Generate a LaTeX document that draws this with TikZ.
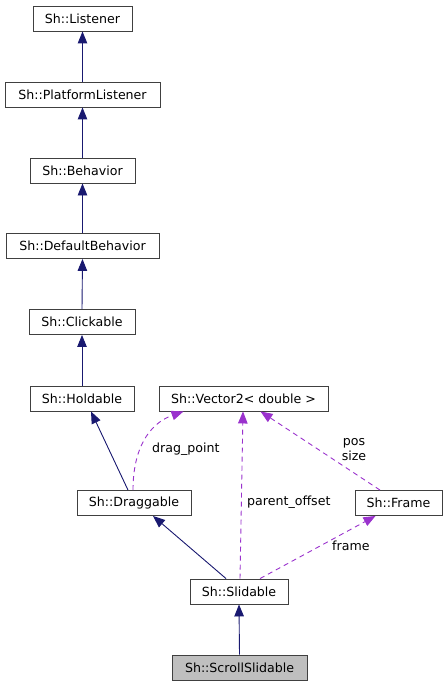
\documentclass[tikz,border=0pt]{standalone}
\usepackage{fontspec}
\setmainfont{DejaVu Sans}
\usetikzlibrary{arrows.meta}
\definecolor{inh}{HTML}{191970}
\definecolor{usg}{HTML}{9A32CD}
\definecolor{bord}{HTML}{404040}
\definecolor{cur}{HTML}{BFBFBF}
\begin{document}
\begin{tikzpicture}[x=1pt,y=-1pt,
  cls/.style={draw=bord,line width=0.9pt,fill=white,inner sep=0pt,minimum height=25pt,font=\fontsize{12.6}{15}\selectfont},
  lbl/.style={inner sep=0pt,font=\fontsize{12.6}{15}\selectfont,align=center},
  inherit/.style={draw=inh,line width=0.9pt,-{Triangle[length=12pt,width=9.5pt]}},
  uses/.style={draw=usg,line width=0.9pt,dash pattern=on 5pt off 4pt,-{Triangle[length=12pt,width=9.5pt]}}]
\useasboundingbox (0,0) rectangle (447,687);
\node[cls,minimum width=99pt] (li) at (82.5,18.5) {Sh::Listener};
\node[cls,minimum width=155pt] (pl) at (82.5,94.5) {Sh::PlatformListener};
\node[cls,minimum width=105pt] (be) at (82.5,170.5) {Sh::Behavior};
\node[cls,minimum width=153pt] (db) at (82.5,246) {Sh::DefaultBehavior};
\node[cls,minimum width=106pt] (cl) at (82,322) {Sh::Clickable};
\node[cls,minimum width=104pt] (ho) at (82,398.5) {Sh::Holdable};
\node[cls,minimum width=169pt] (v2) at (243.5,398.5) {Sh::Vector2< double >};
\node[cls,minimum width=114pt] (dr) at (134,503) {Sh::Draggable};
\node[cls,minimum width=87pt] (fr) at (398.5,503) {Sh::Frame};
\node[cls,minimum width=98pt] (sl) at (239,591.5) {Sh::Slidable};
\node[cls,minimum width=135pt,fill=cur] (ss) at (239.5,667.5) {Sh::ScrollSlidable};

\draw[inherit] (pl.north) -- (li.south);
\draw[inherit] (be.north) -- (pl.south);
\draw[inherit] (db.north) -- (be.south);
\draw[inherit] (cl.north) -- (db.south);
\draw[inherit] (ho.north) -- (cl.south);
\draw[inherit] ([xshift=-6pt]dr.north) -- ([xshift=9pt]ho.south);
\draw[inherit] ([xshift=-13pt]sl.north) -- ([xshift=19pt]dr.south);
\draw[inherit] (ss.north) -- (sl.south);

\draw[uses] ([xshift=-1pt]dr.north) .. controls (133,450) and (148,424) .. ([xshift=-60pt]v2.south);
\draw[uses] ([xshift=1pt]sl.north) -- ([xshift=-0.5pt]v2.south);
\draw[uses] ([xshift=-18.5pt]fr.north) -- ([xshift=17pt]v2.south);
\draw[uses] ([xshift=21pt]sl.north) -- ([xshift=-23pt]fr.south);

\node[lbl,anchor=west] (ldp) at (152,449) {drag\_point};
\node[lbl,anchor=west] (lpo) at (247,502) {parent\_offset};
\node[lbl] (lps) at (354,449.5) {pos\\size};
\node[lbl,anchor=west] (lfr) at (332,546) {frame};
\end{tikzpicture}
\end{document}
